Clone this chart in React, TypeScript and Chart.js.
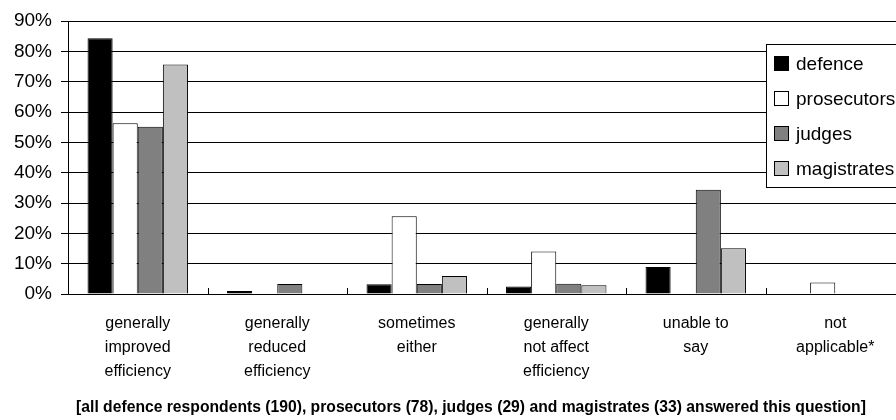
import React, { useEffect, useRef } from 'react';
import { Chart, registerables } from 'chart.js';

Chart.register(...registerables);

const categories: string[][] = [
  ['generally', 'improved', 'efficiency'],
  ['generally', 'reduced', 'efficiency'],
  ['sometimes', 'either'],
  ['generally', 'not affect', 'efficiency'],
  ['unable to', 'say'],
  ['not', 'applicable*'],
];
const seriesNames = ['defence', 'prosecutors', 'judges', 'magistrates'];
const defence = [84.3, 1.0, 3.2, 2.5, 8.9, 0];
const prosecutors = [56.3, 0, 25.6, 14.0, 0, 3.8];
const judges = [55.1, 3.3, 3.3, 3.4, 34.4, 0];
const magistrates = [75.7, 0, 5.9, 2.9, 15.1, 0];
const seriesColors = ['#000000', '#ffffff', '#808080', '#c0c0c0'];
const yMax = 90;
const yStep = 10;
const titleText =
  '[all defence respondents (190), prosecutors (78), judges (29) and magistrates (33) answered this question]';

const FONT = '"Liberation Sans", Arial, sans-serif';

const innerTicks = {
  id: 'innerTicks',
  afterDatasetsDraw(chart: any) {
    const { ctx, chartArea } = chart;
    const xs = chart.scales.x;
    const n = chart.data.labels.length;
    const w = (chartArea.right - chartArea.left) / n;
    ctx.save();
    ctx.strokeStyle = '#000';
    ctx.lineWidth = 1;
    for (let i = 1; i <= n; i++) {
      const x = Math.round(xs.getPixelForValue(i) - w / 2) + 0.5;
      ctx.beginPath();
      ctx.moveTo(x, chartArea.bottom - 6);
      ctx.lineTo(x, chartArea.bottom);
      ctx.stroke();
    }
    ctx.restore();
  },
};

const bottomTitle = {
  id: 'bottomTitle',
  afterDraw(chart: any) {
    const { ctx } = chart;
    ctx.save();
    ctx.font = 'bold 15.7px ' + FONT;
    ctx.fillStyle = '#000';
    ctx.textAlign = 'center';
    ctx.textBaseline = 'middle';
    ctx.fillText(titleText, chart.width / 2 + 18.5, chart.height - 12);
    ctx.restore();
  },
};

const boxLegend = {
  id: 'boxLegend',
  afterDraw(chart: any) {
    const { ctx, chartArea } = chart;
    const x = chartArea.right - 139.5;
    const y = chartArea.top + 23;
    const bw = 140;
    const bh = 143;
    ctx.save();
    ctx.fillStyle = '#fff';
    ctx.fillRect(Math.round(x) + 0.5, Math.round(y) + 0.5, bw, bh);
    ctx.strokeStyle = '#000';
    ctx.lineWidth = 1;
    ctx.strokeRect(Math.round(x) + 0.5, Math.round(y) + 0.5, bw, bh);
    ctx.font = '19px ' + FONT;
    ctx.textBaseline = 'middle';
    chart.data.datasets.forEach((ds: any, i: number) => {
      const cy = Math.round(y + 20 + i * 35);
      const sx = Math.round(x) + 8.5;
      ctx.fillStyle = ds.backgroundColor;
      ctx.fillRect(sx, cy - 7.5, 14, 14);
      ctx.strokeStyle = '#000';
      ctx.strokeRect(sx, cy - 7.5, 14, 14);
      ctx.fillStyle = '#000';
      ctx.fillText(ds.label, Math.round(x) + 30, cy + 1);
    });
    ctx.restore();
  },
};

export default function App() {
  const ref = useRef<HTMLCanvasElement | null>(null);
  useEffect(() => {
    if (!ref.current) return;
    const seriesData = [defence, prosecutors, judges, magistrates];
    const chart = new Chart(ref.current, {
      type: 'bar',
      data: {
        labels: categories,
        datasets: seriesNames.map((name, i) => ({
          label: name,
          data: seriesData[i],
          backgroundColor: seriesColors[i],
          borderColor: '#000',
          borderWidth: 1,
          categoryPercentage: 0.72,
          barPercentage: 1,
        })),
      },
      options: {
        animation: false,
        responsive: false,
        maintainAspectRatio: false,
        layout: { padding: { left: 0, right: 0, top: 21, bottom: 0 } },
        plugins: {
          legend: { display: false },
          tooltip: { enabled: false },
          title: { display: false },
        },
        scales: {
          x: {
            grid: { display: false, drawTicks: false },
            border: { display: true, color: '#000', width: 1 },
            ticks: {
              color: '#000',
              font: { family: FONT, size: 16, lineHeight: 1.5 },
              padding: 18,
              maxRotation: 0,
              autoSkip: false,
            },
            afterFit(scale: any) {
              scale.height = 126;
            },
          },
          y: {
            min: 0,
            max: yMax,
            grid: { color: '#000', lineWidth: 1, drawTicks: true, tickLength: 7, tickColor: '#000' },
            border: { display: true, color: '#000', width: 1 },
            ticks: {
              stepSize: yStep,
              color: '#000',
              font: { family: FONT, size: 19 },
              padding: 9,
              callback: (v: any) => v + '%',
            },
            afterFit(scale: any) {
              scale.width = 68;
            },
          },
        },
      },
      plugins: [innerTicks, boxLegend, bottomTitle],
    } as any);
    return () => chart.destroy();
  }, []);
  return (
    <div style={{ position: 'fixed', left: 0, top: 0, width: 896, height: 420, overflow: 'hidden', background: '#fff' }}>
      <canvas ref={ref} width={905} height={420} style={{ width: 905, height: 420, display: 'block' }} />
    </div>
  );
}
